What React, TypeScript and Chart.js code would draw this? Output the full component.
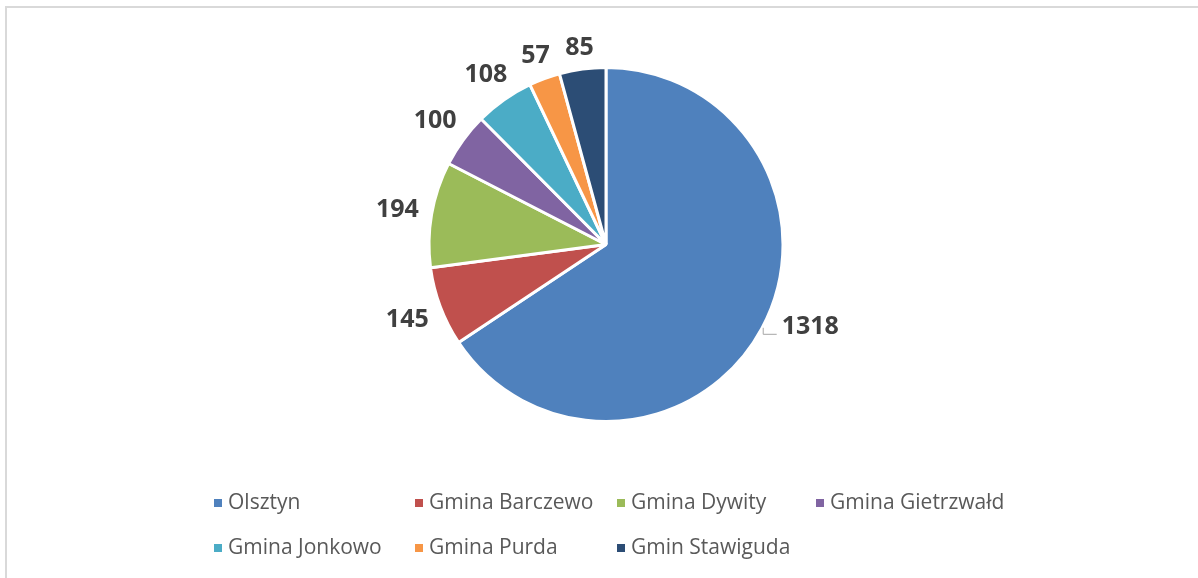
import { useEffect, useRef } from 'react';
import { Chart, registerables } from 'chart.js';

Chart.register(...registerables);

const categories = [
  'Olsztyn',
  'Gmina Barczewo',
  'Gmina Dywity',
  'Gmina Gietrzwałd',
  'Gmina Jonkowo',
  'Gmina Purda',
  'Gmin Stawiguda',
];
const values = [1318, 145, 194, 100, 108, 57, 85];
const colors = ['#4F81BD', '#C0504D', '#9BBB59', '#8064A2', '#4BACC6', '#F79646', '#2C4D75'];

const labelPlugin = {
  id: 'outsideLabels',
  afterDatasetsDraw(chart: any) {
    const ctx = chart.ctx;
    const meta = chart.getDatasetMeta(0);
    const data = chart.data.datasets[0].data;
    ctx.save();
    ctx.font = 'bold 25px "Open Sans"';
    ctx.fillStyle = '#404040';
    ctx.textAlign = 'center';
    ctx.textBaseline = 'middle';
    meta.data.forEach((arc: any, i: number) => {
      const p = arc.getProps(['x', 'y', 'startAngle', 'endAngle', 'outerRadius'], true);
      let mid = (p.startAngle + p.endAngle) / 2;
      if (i === 0) mid = (21.7 * Math.PI) / 180;
      const text = String(data[i]);
      const w = ctx.measureText(text).width;
      const h = 18;
      const ux = Math.cos(mid);
      const uy = Math.sin(mid);
      const ext = Math.abs(ux) * (w / 2) + Math.abs(uy) * (h / 2);
      const d = p.outerRadius + (i === 0 ? 13 : 12) + ext;
      const cx = p.x + ux * d;
      const cy = p.y + uy * d;
      ctx.fillText(text, cx, cy + 1);
      if (i === 0) {
        const left = cx - w / 2;
        const bottom = cy + h / 2;
        ctx.strokeStyle = '#A6A6A6';
        ctx.lineWidth = 1;
        ctx.beginPath();
        ctx.moveTo(left - 18.5, bottom - 7);
        ctx.lineTo(left - 18.5, bottom - 0.5);
        ctx.lineTo(left - 5, bottom - 0.5);
        ctx.stroke();
      }
    });
    ctx.restore();
  },
  afterDraw(chart: any) {
    const ctx = chart.ctx;
    const cols = [214, 415, 617, 816];
    const rows = [503, 548];
    ctx.save();
    ctx.font = '21px "Open Sans"';
    ctx.textAlign = 'left';
    ctx.textBaseline = 'middle';
    chart.data.labels.forEach((lab: string, i: number) => {
      const x = cols[i % 4];
      const y = rows[Math.floor(i / 4)];
      ctx.fillStyle = colors[i];
      ctx.fillRect(x, y - 4, 8, 8);
      ctx.fillStyle = '#595959';
      ctx.fillText(lab, x + 14, y);
    });
    ctx.restore();
  },
};

export default function App() {
  const ref = useRef<HTMLCanvasElement | null>(null);
  useEffect(() => {
    if (!ref.current) return;
    const chart = new Chart(ref.current, {
      type: 'pie',
      data: {
        labels: categories,
        datasets: [
          {
            data: values,
            backgroundColor: colors,
            borderColor: '#FFFFFF',
            borderWidth: 3,
          },
        ],
      },
      options: {
        responsive: false,
        animation: false,
        layout: { padding: { left: 427, right: 413, top: 66, bottom: 155 } },
        plugins: { legend: { display: false }, tooltip: { enabled: false } },
      },
      plugins: [labelPlugin],
    });
    return () => chart.destroy();
  }, []);
  return (
    <div style={{ position: 'absolute', left: 0, top: 0, width: 1198, height: 578, background: '#fff', overflow: 'hidden' }}>
      <div
        style={{
          position: 'absolute',
          left: 5,
          top: 6,
          right: -10,
          bottom: -10,
          borderTop: '2px solid #D9D9D9',
          borderLeft: '2px solid #D9D9D9',
        }}
      />
      <canvas ref={ref} width={1198} height={578} style={{ position: 'absolute', left: 0, top: 0 }} />
    </div>
  );
}
